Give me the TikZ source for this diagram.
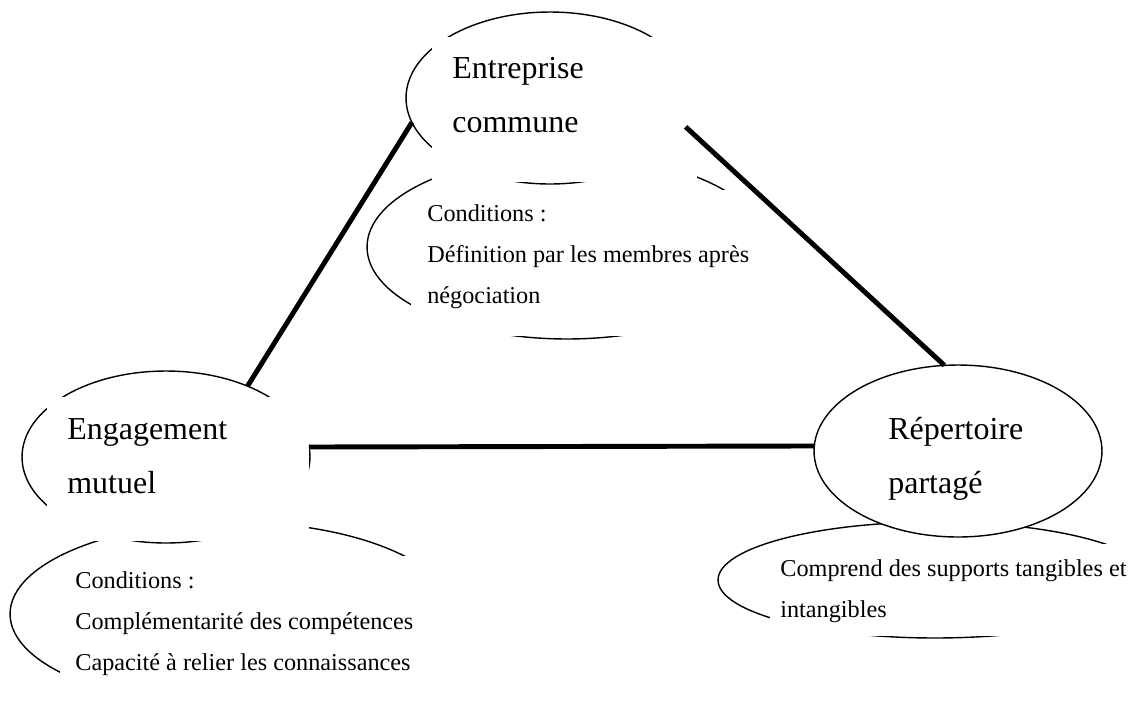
\documentclass[tikz,border=0pt]{standalone}
\usepackage{fontspec}
\setmainfont{Liberation Serif}
\usetikzlibrary{shapes.geometric}
\begin{document}
\begin{tikzpicture}[x=0.02cm, y=-0.02cm, line join=round,
    bulle/.style={ellipse, draw, line width=0.8pt, inner sep=0pt, outer sep=0pt},
    grande/.style={bulle, minimum width=5.76cm, minimum height=3.44cm},
    titre/.style={font=\fontsize{18.2}{30.7}\selectfont, align=left, anchor=base west, inner sep=0pt},
    texte/.style={font=\fontsize{13.8}{23.3}\selectfont, align=left, anchor=base west, inner sep=0pt},
    lien/.style={line width=2.8pt}]
    \useasboundingbox (0,0) rectangle (1137,708);
    % bulles
    \node[bulle, minimum width=8.88cm, minimum height=3.68cm] (condM) at (232,614) {};
    \node[bulle, minimum width=8cm, minimum height=3.68cm] (condE) at (567,247) {};
    \node[bulle, minimum width=8.68cm, minimum height=2.32cm] (condR) at (935,580) {};
    \node[grande] (ent) at (550,98) {};
    \node[grande] (eng) at (166,457) {};
    \node[grande, fill=white] (rep) at (958,451) {};
    % zones de texte
    \fill[white] (432,37) rectangle (697,182);
    \fill[white] (411,190) rectangle (770,336);
    \fill[white] (47,397) rectangle (309,541);
    \fill[white] (60,556) rectangle (460,708);
    \fill[white] (770,544) rectangle (1137,636);
    \node[titre] (tEnt) at (452,132) {Entreprise\\commune};
    \node[titre] (tEng) at (67,493) {Engagement\\mutuel};
    \node[titre] (tRep) at (888,493) {Répertoire\\partagé};
    \node[texte] (tCondE) at (427,303) {Conditions :\\Définition par les membres après\\négociation};
    \node[texte] (tCondM) at (75,670) {Conditions :\\Complémentarité des compétences\\Capacité à relier les connaissances};
    \node[texte] (tCondR) at (780,617) {Comprend des supports tangibles et\\intangibles};
    % liens
    \draw[lien] (ent.190) -- (eng.41);
    \draw[lien] (ent.348) -- (rep.99);
    \draw[lien] (eng.4) -- (rep.178);
\end{tikzpicture}
\end{document}
